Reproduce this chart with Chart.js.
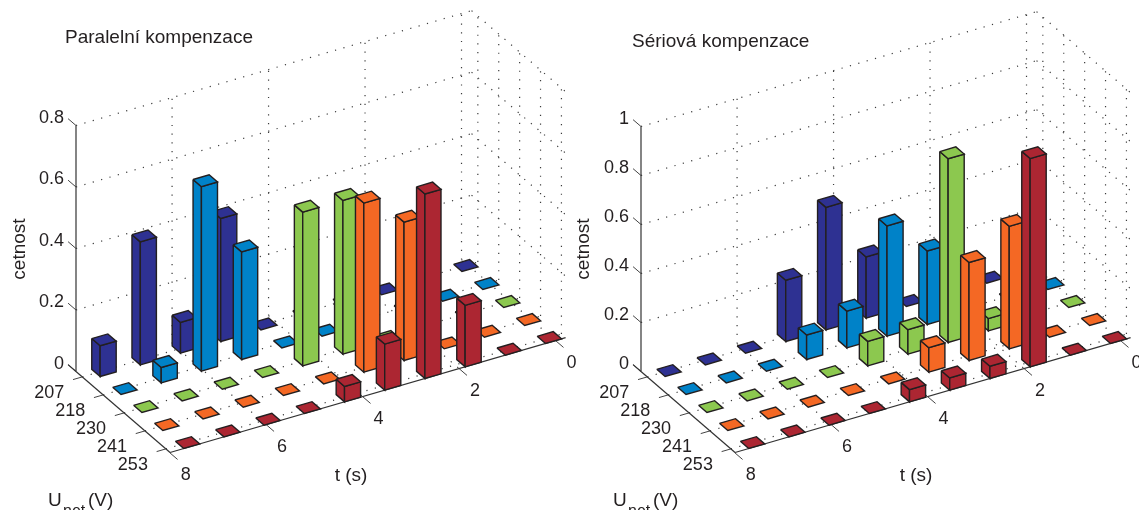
<!DOCTYPE html>
<html>
<head>
<meta charset="utf-8">
<style>
html,body{margin:0;padding:0;background:#fff;width:1139px;height:510px;overflow:hidden}
canvas{position:absolute;top:0}
#left{left:0}
#right{left:565px}
</style>
<script src="https://cdn.jsdelivr.net/npm/chart.js@4"></script>
</head>
<body>
<canvas id="left" width="600" height="510"></canvas>
<canvas id="right" width="574" height="510"></canvas>
<script>
// ---- tick labels ----
const voltageTicks = ['207', '218', '230', '241', '253'];
const timeTicks = [0, 2, 4, 6, 8];
const parallelFreqTicks = [0, 0.2, 0.4, 0.6, 0.8];
const seriesFreqTicks = [0, 0.2, 0.4, 0.6, 0.8, 1];

// ---- values: frequency per time bin, first bin at t = 0 ----
const parallel207 = [0, 0, 0, 0, 0, 0, 0.4, 0.1, 0.4, 0.1];
const parallel218 = [0, 0, 0, 0, 0, 0, 0.35, 0.6, 0.05, 0];
const parallel230 = [0, 0, 0, 0, 0.5, 0.5, 0, 0, 0, 0];
const parallel241 = [0, 0, 0, 0.45, 0.55, 0, 0, 0, 0, 0];
const parallel253 = [0, 0, 0.2, 0.6, 0.15, 0.05, 0, 0, 0, 0];

const serial207 = [0, 0, 0, 0, 0.25, 0.5, 0.25, 0, 0, 0];
const serial218 = [0, 0, 0, 0.3, 0.45, 0.15, 0.1, 0, 0, 0];
const serial230 = [0, 0, 0.05, 0.75, 0.1, 0.1, 0, 0, 0, 0];
const serial241 = [0, 0, 0.5, 0.4, 0.1, 0, 0, 0, 0, 0];
const serial253 = [0, 0, 0.85, 0.05, 0.05, 0.05, 0, 0, 0, 0];

// ---- series colours, back row to front row ----
const rowColors = ['#2e3192', '#0082c8', '#8cc84f', '#f46824', '#ac2632'];

// ---- oblique view of the floor ----
const view = {
  ax: 76, ay: 371.5,          // corner of the frequency axis on the screen
  rx: 20.9, ry: 18,           // one voltage row
  cx: 40.2, cy: -11.67,       // one time bin
  r0: -0.3, r1: 4.2,          // voltage limits, in rows
  c0: -0.54, c1: 9.3,         // time limits, in bins counted from the front
  half: 0.2,                  // half a bar, in rows and bins
  binAtZero: 9.05,
  binsPerSecond: 1.2
};
const EDGE = '#231f20';
const FONT = '"Liberation Sans", Arial, sans-serif';

function makeProjector(k) {
  return (r, c, z) => ({
    x: view.ax + (r - view.r0) * view.rx + (c - view.c0) * view.cx,
    y: z - ((r - view.r0) * view.ry + (c - view.c0) * view.cy) / k
  });
}
const binOfTime = t => view.binAtZero - t * view.binsPerSecond;

function lineSet(label, points, kind) {
  const styles = {
    dot:  {borderColor: '#3c3c3c', borderWidth: 1.2, borderDash: [1.2, 7.5]},
    axis: {borderColor: '#333333', borderWidth: 1.2, borderDash: []},
    tick: {borderColor: '#444444', borderWidth: 1, borderDash: []}
  };
  return Object.assign({label, data: points, fill: false, pointRadius: 0, tension: 0}, styles[kind]);
}
function faceSet(label, points, color) {
  return {
    label, data: points.concat([points[0]]), fill: 'shape', backgroundColor: color,
    borderColor: EDGE, borderWidth: 1.4, borderJoinStyle: 'miter', pointRadius: 0, tension: 0
  };
}

function buildDatasets(rows, freqTicks, k) {
  const P = makeProjector(k), v = view, out = [];
  const top = freqTicks[freqTicks.length - 1];
  // grid on the walls and floor
  freqTicks.filter(z => z > 0).forEach(z => {
    out.push(lineSet('wall t', [P(v.r0, v.c0, z), P(v.r0, v.c1, z)], 'dot'));
    out.push(lineSet('wall U', [P(v.r0, v.c1, z), P(v.r1, v.c1, z)], 'dot'));
  });
  timeTicks.filter(t => t < 8).forEach(t => {
    const c = binOfTime(t);
    out.push(lineSet('wall t=' + t, [P(v.r0, c, 0), P(v.r0, c, top)], 'dot'));
    out.push(lineSet('floor t=' + t, [P(v.r0, c, 0), P(v.r1, c, 0)], 'dot'));
  });
  voltageTicks.forEach((u, r) => {
    out.push(lineSet('wall U=' + u, [P(r, v.c1, 0), P(r, v.c1, top)], 'dot'));
    out.push(lineSet('floor U=' + u, [P(r, v.c0, 0), P(r, v.c1, 0)], 'dot'));
  });
  // axes and their ticks
  out.push(lineSet('axis f', [P(v.r0, v.c0, 0), P(v.r0, v.c0, top)], 'axis'));
  out.push(lineSet('axis U', [P(v.r0, v.c0, 0), P(v.r1, v.c0, 0)], 'axis'));
  out.push(lineSet('axis t', [P(v.r1, v.c0, 0), P(v.r1, v.c1, 0)], 'axis'));
  freqTicks.forEach(z => out.push(lineSet('tick f', [P(v.r0, v.c0, z), P(v.r0 - 0.38, v.c0, z)], 'tick')));
  out.push(lineSet('tick f end', [P(v.r0, v.c0, 0), P(v.r0 - 0.38, v.c0, 0)], 'axis'));
  voltageTicks.forEach((u, r) => out.push(lineSet('tick U', [P(r, v.c0, 0), P(r, v.c0 - 0.23, 0)], 'tick')));
  timeTicks.forEach(t => {
    const c = binOfTime(t);
    out.push(lineSet('tick t', [P(v.r1, c, 0), P(v.r1 + 0.38, c, 0)], 'tick'));
  });
  // bars: back rows first, far bins first
  const h = v.half;
  rows.forEach((values, r) => {
    values.forEach((z, bin) => {
      const c = 9 - bin, color = rowColors[r];
      const label = 'U=' + voltageTicks[r] + ' bin ' + bin;
      if (z > 0) {
        out.push(faceSet(label + ' left', [P(r - h, c - h, z), P(r + h, c - h, z), P(r + h, c - h, 0), P(r - h, c - h, 0)], color));
        out.push(faceSet(label + ' right', [P(r + h, c - h, z), P(r + h, c + h, z), P(r + h, c + h, 0), P(r + h, c - h, 0)], color));
      }
      out.push(faceSet(label + ' top', [P(r - h, c - h, z), P(r - h, c + h, z), P(r + h, c + h, z), P(r + h, c - h, z)], color));
    });
  });
  return out.reverse(); // the library paints the first dataset last
}

function textPlugin(title, k) {
  return {
    id: 'axisText',
    afterDraw(chart) {
      const ctx = chart.ctx, P = makeProjector(k), v = view;
      const X = chart.scales.x, Y = chart.scales.y;
      const px = p => ({x: X.getPixelForValue(p.x), y: Y.getPixelForValue(p.y)});
      ctx.save();
      ctx.fillStyle = EDGE;
      ctx.font = '18px ' + FONT;
      ctx.textAlign = 'center';
      ctx.textBaseline = 'middle';
      voltageTicks.forEach((u, r) => {
        const a = px(P(r, v.c0, 0));
        ctx.fillText(u, a.x - 33, a.y + 16);
      });
      timeTicks.forEach(t => {
        const a = px(P(v.r1, binOfTime(t), 0));
        ctx.fillText(String(t), a.x + 16, a.y + 22);
      });
      ctx.font = '19px ' + FONT;
      ctx.fillText('t (s)', 351, 476);
      ctx.textAlign = 'left';
      ctx.textBaseline = 'alphabetic';
      ctx.fillText('U', 48, 506);
      ctx.fillText('(V)', 88, 506);
      ctx.font = '16px ' + FONT;
      ctx.fillText('net', 63, 516);
      ctx.font = '19px ' + FONT;
      ctx.textBaseline = 'middle';
      ctx.fillText(title.text, title.x, title.y);
      ctx.translate(title.cx, 249);
      ctx.rotate(-Math.PI / 2);
      ctx.textAlign = 'center';
      ctx.fillText('cetnost', 0, 0);
      ctx.restore();
    }
  };
}

function makeChart(id, rows, freqTicks, k, title) {
  const canvas = document.getElementById(id);
  return new Chart(canvas, {
    type: 'line',
    data: {datasets: buildDatasets(rows, freqTicks, k)},
    options: {
      responsive: false,
      animation: false,
      devicePixelRatio: 1,
      events: [],
      clip: false,
      layout: {padding: 0},
      plugins: {legend: {display: false}, tooltip: {enabled: false}, title: {display: false}},
      scales: {
        x: {type: 'linear', min: 0, max: canvas.width, display: false},
        y: {
          type: 'linear',
          min: (view.ay - 510) / k,
          max: view.ay / k,
          position: {x: 64},
          grid: {display: false, drawTicks: false},
          border: {display: false},
          afterBuildTicks: s => { s.ticks = freqTicks.map(value => ({value})); },
          afterFit: s => { s.paddingTop = s.paddingBottom = s.paddingLeft = s.paddingRight = 0; },
          ticks: {
            autoSkip: false, padding: 0, labelOffset: -7.5, color: EDGE,
            font: {family: FONT, size: 18},
            callback: value => String(value)
          }
        }
      }
    },
    plugins: [textPlugin(title, k)]
  });
}

makeChart('left', [parallel207, parallel218, parallel230, parallel241, parallel253], parallelFreqTicks, 307.5,
  {text: 'Paralelní kompenzace', x: 65, y: 38, cx: 20});
makeChart('right', [serial207, serial218, serial230, serial241, serial253], seriesFreqTicks, 245,
  {text: 'Sériová kompenzace', x: 67, y: 42, cx: 19});
</script>
</body>
</html>
